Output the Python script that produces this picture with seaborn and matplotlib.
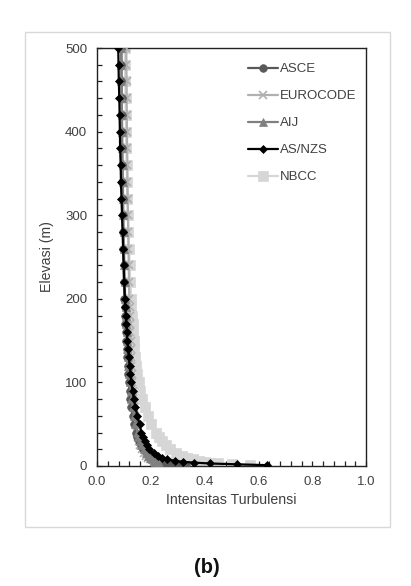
import pandas as pd
import matplotlib.pyplot as plt
import seaborn as sns
from matplotlib.patches import Rectangle
from matplotlib.ticker import MultipleLocator

# ------------------------
# Data
# ------------------------
elevasi = [1, 2, 3, 4, 5, 6, 8, 10, 12, 15, 20, 25, 30, 35, 40, 50, 60, 70, 80, 90,
           100, 110, 120, 130, 140, 150, 160, 170, 180, 190, 200, 220, 240, 260, 280,
           300, 320, 340, 360, 380, 400, 420, 440, 460, 480, 500]

asce = [0.33, 0.30, 0.275, 0.26, 0.245, 0.235, 0.22, 0.205, 0.195, 0.185, 0.172, 0.163,
        0.156, 0.150, 0.146, 0.139, 0.133, 0.128, 0.124, 0.121, 0.118, 0.116, 0.114,
        0.112, 0.110, 0.108, 0.107, 0.105, 0.104, 0.103, 0.102, 0.100, 0.099, 0.098,
        0.097, 0.096, 0.095, 0.094, 0.094, 0.093, 0.093, 0.092, 0.092, 0.091, 0.091, 0.090]
eurocode = [0.33, 0.27, 0.245, 0.23, 0.215, 0.21, 0.20, 0.19, 0.183, 0.175, 0.167, 0.161,
            0.156, 0.153, 0.150, 0.145, 0.141, 0.138, 0.135, 0.133, 0.131, 0.130, 0.128,
            0.127, 0.126, 0.125, 0.124, 0.123, 0.122, 0.121, 0.120, 0.119, 0.118, 0.117,
            0.116, 0.115, 0.114, 0.113, 0.113, 0.112, 0.111, 0.111, 0.110, 0.110, 0.109, 0.109]
aij = [0.235, 0.232, 0.228, 0.222, 0.216, 0.211, 0.203, 0.196, 0.190, 0.183, 0.173, 0.165,
       0.159, 0.154, 0.150, 0.143, 0.137, 0.132, 0.128, 0.125, 0.122, 0.119, 0.117, 0.115,
       0.113, 0.111, 0.110, 0.108, 0.107, 0.106, 0.105, 0.103, 0.102, 0.100, 0.099, 0.098,
       0.097, 0.096, 0.095, 0.094, 0.093, 0.093, 0.092, 0.091, 0.091, 0.090]
asnzs = [0.63, 0.52, 0.42, 0.36, 0.32, 0.29, 0.26, 0.24, 0.225, 0.21, 0.195, 0.185, 0.177,
         0.170, 0.165, 0.158, 0.150, 0.143, 0.137, 0.132, 0.128, 0.124, 0.121, 0.118, 0.115,
         0.113, 0.111, 0.109, 0.107, 0.105, 0.104, 0.101, 0.099, 0.097, 0.095, 0.093, 0.091,
         0.089, 0.088, 0.086, 0.085, 0.084, 0.083, 0.081, 0.080, 0.079]
nbcc = [0.57, 0.50, 0.45, 0.42, 0.40, 0.38, 0.355, 0.335, 0.315, 0.295, 0.27, 0.255, 0.24,
        0.23, 0.22, 0.20, 0.188, 0.177, 0.168, 0.161, 0.155, 0.150, 0.146, 0.142, 0.139,
        0.136, 0.134, 0.132, 0.130, 0.128, 0.127, 0.124, 0.121, 0.119, 0.117, 0.115, 0.113,
        0.112, 0.110, 0.109, 0.108, 0.107, 0.106, 0.105, 0.104, 0.103]

codes = ['ASCE', 'EUROCODE', 'AIJ', 'AS/NZS', 'NBCC']
series = [asce, eurocode, aij, asnzs, nbcc]
colors = ['#595959', '#b0b0b0', '#808080', '#000000', '#d6d6d6']
markers = ['o', 'x', '^', 'D', 's']
msizes = [5.5, 5.5, 5.5, 4.5, 6.5]
zorders = [4, 3, 5, 6, 2]

# ------------------------
# Plot
# ------------------------
sns.set_style('ticks')
plt.rcParams['font.family'] = ['Liberation Sans', 'DejaVu Sans']

fig = plt.figure(figsize=(4.11, 5.86), dpi=100)
ax = fig.add_axes([0.236, 0.2048, 0.655, 0.7132])

for name, vals, c, m, ms, z in zip(codes, series, colors, markers, msizes, zorders):
    df = pd.DataFrame({'intensitas': vals, 'elevasi': elevasi})
    sns.lineplot(data=df, x='intensitas', y='elevasi', orient='y', sort=True,
                 color=c, marker=m, markersize=ms, markeredgecolor=c,
                 markeredgewidth=1.2 if m == 'x' else 0.5, linewidth=1.6,
                 label=name, zorder=z, ax=ax)

ax.set_xlim(0, 1.0)
ax.set_ylim(0, 500)
ax.xaxis.set_major_locator(MultipleLocator(0.2))
ax.xaxis.set_minor_locator(MultipleLocator(0.04))
ax.yaxis.set_major_locator(MultipleLocator(100))
ax.yaxis.set_minor_locator(MultipleLocator(20))
ax.xaxis.set_major_formatter(plt.FuncFormatter(lambda v, p: f'{v:.1f}'))
ax.tick_params(which='both', direction='in', length=3.5, width=0.9, color='#222222',
               labelsize=9.5, labelcolor='#404040', pad=7)
for s in ax.spines.values():
    s.set_color('#222222')
    s.set_linewidth(1.0)

ax.set_xlabel('Intensitas Turbulensi', fontsize=10.2, color='#404040', labelpad=4)
ax.set_ylabel('Elevasi (m)', fontsize=10.2, color='#404040', labelpad=8)

ax.legend(loc='upper left', bbox_to_anchor=(0.535, 0.98), frameon=False,
          fontsize=9.5, labelspacing=1.12, handlelength=2.3, handletextpad=0.15,
          borderpad=0, labelcolor='#404040')

# light frame around the chart area
fig.patches.append(Rectangle((0.061, 0.1007), 0.888, 0.844, transform=fig.transFigure,
                             fill=False, edgecolor='#d9d9d9', linewidth=1.0))

fig.text(0.503, 0.032, '(b)', ha='center', va='center', fontsize=14.5,
         fontweight='bold', color='#111111')

fig.savefig('out.png', dpi=100)
